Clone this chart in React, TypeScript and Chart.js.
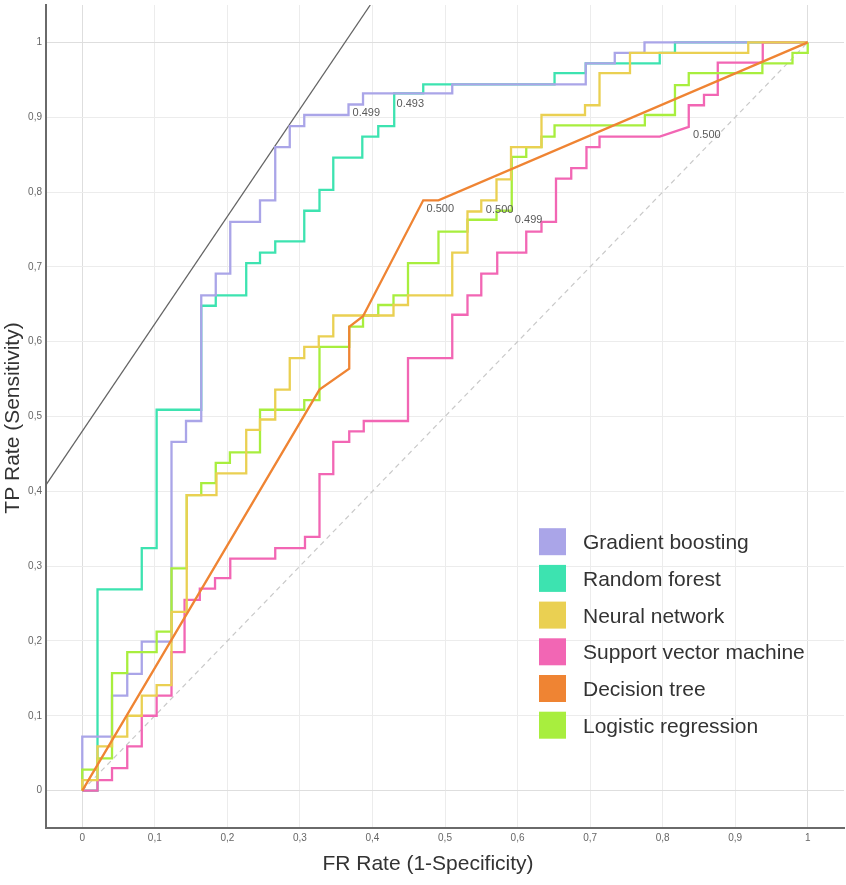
import React, { useEffect, useRef } from "react";
import { Chart, registerables } from "chart.js";

Chart.register(...registerables);

// ---- axis ticks ----
const tickValues = [0, 0.1, 0.2, 0.3, 0.4, 0.5, 0.6, 0.7, 0.8, 0.9, 1];
const tickLabels = ["0", "0,1", "0,2", "0,3", "0,4", "0,5", "0,6", "0,7", "0,8", "0,9", "1"];

// ---- series (FPR, TPR) corners ----
const gradientBoosting: [number, number][] = [
  [0, 0], [0, 0.072], [0.041, 0.072], [0.041, 0.127], [0.062, 0.127], [0.062, 0.156],
  [0.082, 0.156], [0.082, 0.199], [0.123, 0.199], [0.123, 0.466], [0.143, 0.466], [0.143, 0.494],
  [0.164, 0.494], [0.164, 0.662], [0.184, 0.662], [0.184, 0.691], [0.204, 0.691], [0.204, 0.76],
  [0.245, 0.76], [0.245, 0.789], [0.266, 0.789], [0.266, 0.86], [0.286, 0.86], [0.286, 0.888],
  [0.306, 0.888], [0.306, 0.903], [0.367, 0.903], [0.367, 0.917], [0.387, 0.917], [0.387, 0.932],
  [0.51, 0.932], [0.51, 0.944], [0.694, 0.944], [0.694, 0.972], [0.734, 0.972], [0.734, 0.986],
  [0.775, 0.986], [0.775, 1], [1, 1],
];

const randomForest: [number, number][] = [
  [0, 0], [0.021, 0], [0.021, 0.269], [0.082, 0.269], [0.082, 0.324], [0.1025, 0.324],
  [0.1025, 0.509], [0.164, 0.509], [0.164, 0.648], [0.184, 0.648], [0.184, 0.662], [0.226, 0.662],
  [0.226, 0.705], [0.245, 0.705], [0.245, 0.719], [0.266, 0.719], [0.266, 0.734], [0.306, 0.734],
  [0.306, 0.775], [0.327, 0.775], [0.327, 0.803], [0.346, 0.803], [0.346, 0.846], [0.386, 0.846],
  [0.386, 0.874], [0.408, 0.874], [0.408, 0.888], [0.43, 0.888], [0.43, 0.932], [0.47, 0.932],
  [0.47, 0.944], [0.651, 0.944], [0.651, 0.959], [0.694, 0.959], [0.694, 0.972], [0.796, 0.972],
  [0.796, 0.986], [0.817, 0.986], [0.817, 1], [1, 1],
];

const neuralNetwork: [number, number][] = [
  [0, 0], [0, 0.014], [0.021, 0.014], [0.021, 0.059], [0.041, 0.059], [0.041, 0.072],
  [0.062, 0.072], [0.062, 0.1], [0.082, 0.1], [0.082, 0.127], [0.1025, 0.127], [0.1025, 0.141],
  [0.123, 0.141], [0.123, 0.239], [0.144, 0.239], [0.144, 0.395], [0.185, 0.395], [0.185, 0.424],
  [0.226, 0.424], [0.226, 0.482], [0.245, 0.482], [0.245, 0.496], [0.266, 0.496], [0.266, 0.536],
  [0.286, 0.536], [0.286, 0.578], [0.306, 0.578], [0.306, 0.593], [0.326, 0.593], [0.326, 0.607],
  [0.346, 0.607], [0.346, 0.635], [0.429, 0.635], [0.429, 0.649], [0.449, 0.649], [0.449, 0.662],
  [0.51, 0.662], [0.51, 0.719], [0.531, 0.719], [0.531, 0.774], [0.55, 0.774], [0.55, 0.789],
  [0.571, 0.789], [0.571, 0.817], [0.591, 0.817], [0.591, 0.86], [0.633, 0.86], [0.633, 0.903],
  [0.693, 0.903], [0.693, 0.916], [0.713, 0.916], [0.713, 0.959], [0.755, 0.959], [0.755, 0.986],
  [0.918, 0.986], [0.918, 1], [1, 1],
];

const supportVectorMachine: [number, number][] = [
  [0, 0], [0.021, 0], [0.021, 0.014], [0.041, 0.014], [0.041, 0.03], [0.062, 0.03],
  [0.062, 0.059], [0.082, 0.059], [0.082, 0.1], [0.1025, 0.1], [0.1025, 0.127], [0.123, 0.127],
  [0.123, 0.185], [0.141, 0.185], [0.141, 0.255], [0.162, 0.255], [0.162, 0.27], [0.183, 0.27],
  [0.183, 0.284], [0.204, 0.284], [0.204, 0.31], [0.266, 0.31], [0.266, 0.324], [0.307, 0.324],
  [0.307, 0.339], [0.327, 0.339], [0.327, 0.423], [0.346, 0.423], [0.346, 0.466], [0.368, 0.466],
  [0.368, 0.48], [0.388, 0.48], [0.388, 0.494], [0.449, 0.494], [0.449, 0.578], [0.51, 0.578],
  [0.51, 0.636], [0.531, 0.636], [0.531, 0.662], [0.55, 0.662], [0.55, 0.691], [0.572, 0.691],
  [0.572, 0.719], [0.612, 0.719], [0.612, 0.747], [0.633, 0.747], [0.633, 0.76], [0.653, 0.76],
  [0.653, 0.818], [0.674, 0.818], [0.674, 0.832], [0.695, 0.832], [0.695, 0.86], [0.713, 0.86],
  [0.713, 0.874], [0.796, 0.874], [0.836, 0.887], [0.836, 0.916], [0.857, 0.916], [0.857, 0.93],
  [0.876, 0.93], [0.876, 0.973], [0.938, 0.973], [0.938, 1], [1, 1],
];

const decisionTree: [number, number][] = [
  [0, 0], [0.327, 0.536], [0.368, 0.564], [0.368, 0.62], [0.387, 0.634], [0.47, 0.789],
  [0.491, 0.789], [1, 1],
];

const logisticRegression: [number, number][] = [
  [0, 0], [0, 0.028], [0.021, 0.028], [0.021, 0.043], [0.041, 0.043], [0.041, 0.157],
  [0.062, 0.157], [0.062, 0.185], [0.1025, 0.185], [0.1025, 0.2125], [0.123, 0.2125], [0.123, 0.297],
  [0.144, 0.297], [0.144, 0.395], [0.164, 0.395], [0.164, 0.411], [0.184, 0.411], [0.184, 0.438],
  [0.2035, 0.438], [0.2035, 0.452], [0.245, 0.452], [0.245, 0.509], [0.306, 0.509], [0.306, 0.522],
  [0.327, 0.522], [0.327, 0.593], [0.368, 0.593], [0.368, 0.62], [0.387, 0.62], [0.387, 0.635],
  [0.408, 0.635], [0.408, 0.649], [0.429, 0.649], [0.429, 0.662], [0.449, 0.662], [0.449, 0.705],
  [0.491, 0.705], [0.491, 0.747], [0.531, 0.747], [0.531, 0.763], [0.571, 0.763], [0.571, 0.775],
  [0.592, 0.775], [0.592, 0.847], [0.612, 0.847], [0.612, 0.86], [0.633, 0.86], [0.633, 0.874],
  [0.651, 0.874], [0.651, 0.889], [0.7755, 0.889], [0.7755, 0.903], [0.817, 0.903], [0.817, 0.943],
  [0.836, 0.943], [0.836, 0.959], [0.9375, 0.959], [0.9375, 0.972], [0.979, 0.972], [0.979, 0.986],
  [1, 0.986], [1, 1],
];

const tangentLine: [number, number][] = [[-0.05, 0.4085], [0.397, 1.05]];
const chanceLine: [number, number][] = [[0, 0], [1, 1]];

const seriesNames = [
  "Gradient boosting",
  "Random forest",
  "Neural network",
  "Support vector machine",
  "Decision tree",
  "Logistic regression",
];
const seriesColors = ["#aaa5e8", "#3de3b0", "#ead052", "#f266b4", "#ef8433", "#a8ee3e"];
const seriesData = [
  gradientBoosting,
  randomForest,
  neuralNetwork,
  supportVectorMachine,
  decisionTree,
  logisticRegression,
];
const seriesOrder = [4, 5, 1, 3, 0, 2];

// cut-off annotations (text, FPR, TPR)
const cutoffTexts = ["0.499", "0.493", "0.500", "0.500", "0.499", "0.500"];
const cutoffFpr = [0.3726, 0.4332, 0.4746, 0.5563, 0.5963, 0.842];
const cutoffTpr = [0.9055, 0.918, 0.777, 0.7766, 0.7626, 0.876];

const FONT = '"Liberation Sans", Arial, Helvetica, sans-serif';

const overlayPlugin = {
  id: "overlay",
  afterDatasetsDraw(chart: any) {
    const { ctx, scales } = chart;
    const xs = scales.x;
    const ys = scales.y;
    ctx.save();
    // cut-off labels
    ctx.font = `11px ${FONT}`;
    ctx.fillStyle = "#5a5a5a";
    ctx.textAlign = "left";
    ctx.textBaseline = "middle";
    cutoffTexts.forEach((t, i) => {
      ctx.fillText(t, xs.getPixelForValue(cutoffFpr[i]), ys.getPixelForValue(cutoffTpr[i]));
    });
    // legend
    const boxLeft = 539;
    const boxSize = 27;
    const firstCenter = 541.7;
    const rowStep = 36.7;
    ctx.font = `21px ${FONT}`;
    ctx.textBaseline = "alphabetic";
    seriesNames.forEach((name, i) => {
      const cy = firstCenter + i * rowStep;
      ctx.fillStyle = seriesColors[i];
      ctx.fillRect(boxLeft, cy - boxSize / 2, boxSize, boxSize);
      ctx.fillStyle = "#333333";
      ctx.fillText(name, 583, cy + 7.5);
    });
    // axis titles
    ctx.fillStyle = "#333333";
    ctx.font = `21px ${FONT}`;
    ctx.textAlign = "center";
    ctx.textBaseline = "alphabetic";
    ctx.fillText("FR Rate (1-Specificity)", 428, 870);
    ctx.translate(19, 418);
    ctx.rotate(-Math.PI / 2);
    ctx.fillText("TP Rate (Sensitivity)", 0, 0);
    ctx.restore();
  },
};

function gridColor(c: any) {
  const v = c.tick ? c.tick.value : null;
  if (v === 0 || v === 1) return "#dedede";
  return "#ececec";
}

export default function App() {
  const canvasRef = useRef<HTMLCanvasElement | null>(null);

  useEffect(() => {
    if (!canvasRef.current) return;
    const toPoints = (arr: [number, number][]) => arr.map(([x, y]) => ({ x, y }));
    const datasets: any[] = seriesData.map((d, i) => ({
      label: seriesNames[i],
      data: toPoints(d),
      borderColor: seriesColors[i],
      backgroundColor: seriesColors[i],
      borderWidth: 2.3,
      pointRadius: 0,
      showLine: true,
      fill: false,
      tension: 0,
      order: seriesOrder[i],
    }));
    datasets.push({
      label: "chance",
      data: toPoints(chanceLine),
      borderColor: "#c9c9c9",
      borderWidth: 1.2,
      borderDash: [5, 4],
      pointRadius: 0,
      showLine: true,
      order: 6,
    });
    datasets.push({
      label: "tangent",
      data: toPoints(tangentLine),
      borderColor: "#646464",
      borderWidth: 1.3,
      pointRadius: 0,
      showLine: true,
      order: 7,
    });

    const setTicks = (scale: any) => {
      scale.ticks = tickValues.map((v) => ({ value: v }));
    };

    const chart = new Chart(canvasRef.current, {
      type: "scatter",
      data: { datasets },
      options: {
        animation: false,
        responsive: false,
        maintainAspectRatio: false,
        layout: { padding: { top: 5, right: 2, left: 0, bottom: 0 } },
        plugins: {
          legend: { display: false },
          tooltip: { enabled: false },
          title: { display: false },
        },
        scales: {
          x: {
            type: "linear",
            min: -0.05,
            max: 1.05,
            afterBuildTicks: setTicks,
            afterFit: (s: any) => {
              s.height = 57;
              s.paddingLeft = 0;
              s.paddingRight = 0;
            },
            ticks: {
              autoSkip: false,
              maxRotation: 0,
              padding: 4,
              color: "#666666",
              font: { family: FONT, size: 10 },
              callback: (_v: any, i: number) => tickLabels[i],
            },
            grid: { color: gridColor, lineWidth: 1, drawTicks: false },
            border: { display: true, color: "#6a6a6a", width: 2 },
          },
          y: {
            type: "linear",
            min: -0.05,
            max: 1.05,
            afterBuildTicks: setTicks,
            afterFit: (s: any) => {
              s.width = 46;
              s.paddingTop = 0;
              s.paddingBottom = 0;
            },
            ticks: {
              autoSkip: false,
              padding: 4,
              color: "#666666",
              font: { family: FONT, size: 10 },
              callback: (_v: any, i: number) => tickLabels[i],
            },
            grid: { color: gridColor, lineWidth: 1, drawTicks: false },
            border: { display: true, color: "#6a6a6a", width: 2 },
          },
        },
      } as any,
      plugins: [overlayPlugin],
    });
    return () => chart.destroy();
  }, []);

  return (
    <div style={{ position: "absolute", left: 0, top: 0, width: 846, height: 885, background: "#ffffff" }}>
      <canvas ref={canvasRef} width={846} height={885} style={{ width: 846, height: 885, display: "block" }} />
    </div>
  );
}
